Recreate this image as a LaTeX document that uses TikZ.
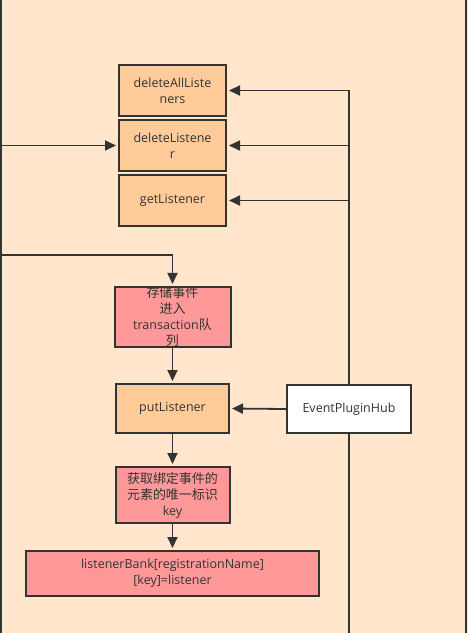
\documentclass[tikz,border=0pt]{standalone}
\usepackage{fontspec}
\setmainfont{Open Sans}
\newfontfamily\cjk[Scale=1.04]{Noto Sans CJK SC}
\usetikzlibrary{arrows.meta}
\definecolor{bg}{HTML}{FFE6CC}
\definecolor{orangebox}{HTML}{FFCC99}
\definecolor{redbox}{HTML}{FF9999}
\definecolor{ink}{HTML}{333333}
\tikzset{
  box/.style={draw=ink, line width=2pt, inner sep=0pt, align=center, text=ink,
    font=\fontsize{12.5}{16}\selectfont},
  obox/.style={box, fill=orangebox},
  rbox/.style={box, fill=redbox},
  wbox/.style={box, fill=white},
  conn/.style={draw=ink, line width=1.8pt},
  arr/.style={conn, -{Triangle[length=11pt,width=10pt]}, shorten >=2pt},
}
\begin{document}
\begin{tikzpicture}[x=1pt,y=-1pt]
\useasboundingbox (0,0) rectangle (468,633);
\fill[bg] (0,0) rectangle (468,633);
\draw[ink, line width=1.8pt] (0.9,0) -- (0.9,633);
\draw[ink, line width=1.8pt] (466.1,0) -- (466.1,633);

\node[obox, minimum width=107pt, minimum height=51pt] (b1) at (172.5,90.5) {deleteAllListe\\ners};
\node[obox, minimum width=107pt, minimum height=51pt] (b2) at (172.5,145.5) {deleteListene\\r};
\node[obox, minimum width=107pt, minimum height=51pt] (b3) at (172.5,200.5) {getListener};
\node[rbox, minimum width=116pt, minimum height=54pt] (store) at (172.5,317) {{\cjk 存储事件}\\{\cjk 进入}\\transaction{\cjk 队}\\{\cjk 列}};
\node[obox, minimum width=113pt, minimum height=49pt] (put) at (172.5,408.5) {putListener};
\node[wbox, minimum width=124pt, minimum height=48pt] (hub) at (349,409) {EventPluginHub};
\node[rbox, minimum width=114pt, minimum height=56pt] (key) at (172.5,495) {{\cjk 获取绑定事件的}\\{\cjk 元素的唯一标识}\\key};
\node[rbox, minimum width=293pt, minimum height=45pt] (bank) at (172.5,573.5) {listenerBank[registrationName]\\{}[key]=listener};

\coordinate (l1) at (0,145.5);
\coordinate (l2) at (0,255);
\coordinate (bot) at (349,633);

\draw[arr] (hub.north) |- (b1.east);
\draw[arr] (hub.north) |- (b2.east);
\draw[arr] (hub.north) |- (b3.east);
\draw[conn] (hub.south) -- (bot);
\draw[arr] (hub.west) -- (put.east);
\draw[arr] (l1) -- (b2.west);
\draw[arr] (l2) -| (store.north);
\draw[arr] (store.south) -- (put.north);
\draw[arr] (put.south) -- (key.north);
\draw[arr] (key.south) -- (bank.north);
\end{tikzpicture}
\end{document}
